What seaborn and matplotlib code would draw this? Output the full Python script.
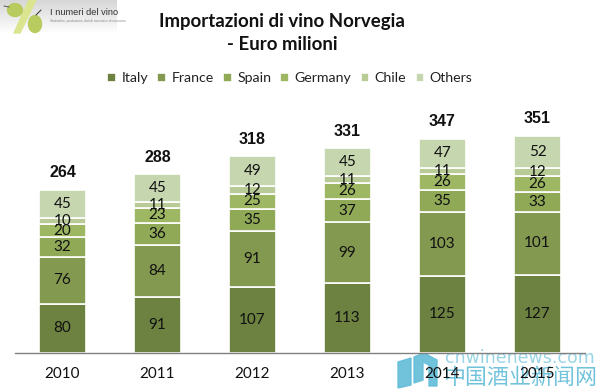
import numpy as np
import pandas as pd
import seaborn as sns
import matplotlib.pyplot as plt
from matplotlib.patches import Ellipse, Polygon

years = ["2010", "2011", "2012", "2013", "2014", "2015"]
series_names = ["Italy", "France", "Spain", "Germany", "Chile", "Others"]
italy = [80, 91, 107, 113, 125, 127]
france = [76, 84, 91, 99, 103, 101]
spain = [32, 36, 35, 37, 35, 33]
germany = [20, 23, 25, 26, 26, 26]
chile = [10, 11, 12, 11, 11, 12]
others = [45, 45, 49, 45, 47, 52]
totals = [264, 288, 318, 331, 347, 351]
colors = ["#6d8240", "#83994f", "#8fa957", "#9db762", "#b8cb96", "#c6d6af"]

W, H = 599, 389
sns.set_theme(style="white")
plt.rcParams["font.family"] = ["Lato", "DejaVu Sans"]

fig = plt.figure(figsize=(W / 100, H / 100), dpi=100)
ax = fig.add_axes([15 / W, 1 - 353 / H, 570 / W, 253 / H], zorder=2)
ax.patch.set_alpha(0)

df = pd.DataFrame(dict(zip(series_names, [italy, france, spain, germany, chile, others])), index=years)
bottom = np.zeros(len(years))
for name, col in zip(series_names, colors):
    sns.barplot(x=years, y=df[name].values, bottom=bottom, color=col, width=0.5, saturation=1,
                edgecolor="white", linewidth=1.2, ax=ax, label=name)
    for i, v in enumerate(df[name].values):
        ax.text(i, bottom[i] + v / 2, str(v), ha="center", va="center", fontsize=11, color="#111111")
    bottom = bottom + df[name].values

for i, t in enumerate(totals):
    ax.text(i, t + 28, str(t), ha="center", va="center", fontsize=11.5, fontweight="bold",
            family=["Liberation Sans"], color="#111111")

ax.set_xlim(-0.5, 5.5)
ax.set_ylim(0, 253 / 0.618)
ax.set_yticks([])
ax.set_xlabel("")
ax.tick_params(axis="x", length=0, labelsize=11, pad=10, labelcolor="#111111")
sns.despine(ax=ax, left=True)
ax.spines["bottom"].set_color("#808080")
ax.spines["bottom"].set_linewidth(1)

ax.legend(loc="center", bbox_to_anchor=(275 / 570, (353 - 78) / 253), ncol=6, frameon=False, fontsize=10.2,
          handlelength=0.6, handleheight=0.6, handletextpad=0.4, columnspacing=0.65, labelcolor="#222222",
          borderpad=0)

fig.text(282 / W, 1 - 21 / H, "Importazioni di vino Norvegia", ha="center", va="center",
         fontsize=13.4, fontweight="bold", color="#111111")
fig.text(282 / W, 1 - 44 / H, "- Euro milioni", ha="center", va="center",
         fontsize=13.4, fontweight="bold", color="#111111")

# logo and watermark, in pixel coordinates, behind the chart
ov = fig.add_axes([0, 0, 1, 1], zorder=1)
ov.axis("off")
grad = np.linspace(0.84, 1, 64).reshape(-1, 1)
ov.imshow(grad, extent=(0, 117, 34, 0), cmap="gray", vmin=0, vmax=1, aspect="auto", zorder=1)
ov.set_xlim(0, W)
ov.set_ylim(H, 0)
ov.add_patch(Polygon([[14, 33], [20, 33], [36, 0], [29, 0]], color="#dbe58f", zorder=2))
ov.add_patch(Ellipse((15, 10), 15, 13, color="#b7cb5f", zorder=3))
ov.add_patch(Ellipse((35, 24), 13, 17, color="#b7cb5f", zorder=3))
ov.plot([4, 9], [6, 7], color="#555555", lw=0.7, zorder=3)
ov.plot([36, 41], [15, 10], color="#444444", lw=0.8, zorder=3)
ov.text(50, 12.5, "I numeri del vino", fontsize=6.7, color="#333333", va="center",
        family=["Liberation Sans"], zorder=4)
ov.text(50, 21, "Statistiche, produzione, dati di mercato e di consumo", fontsize=2.3, color="#888888",
        va="center", family=["Liberation Sans"], zorder=4)

wm = "#62bdd8"
ov.add_patch(Polygon([[398, 362], [411, 358], [411, 385], [398, 388]], color=wm, alpha=0.9, zorder=6))
ov.add_patch(Polygon([[414, 357], [424, 353], [437, 360], [437, 386], [429, 386], [429, 365], [423, 362],
                      [423, 380], [414, 383]], color=wm, alpha=0.9, zorder=6))
ov.text(445, 358, "cnwinenews.com", fontsize=12.5, color=wm, alpha=0.65, va="center",
        family=["DejaVu Sans"], zorder=6)
ov.text(444, 378, "中国酒业新闻网", fontsize=15.8, color=wm, alpha=0.9, va="center",
        family=["Noto Sans CJK SC"], zorder=6)

fig.savefig("out.png", dpi=100)
